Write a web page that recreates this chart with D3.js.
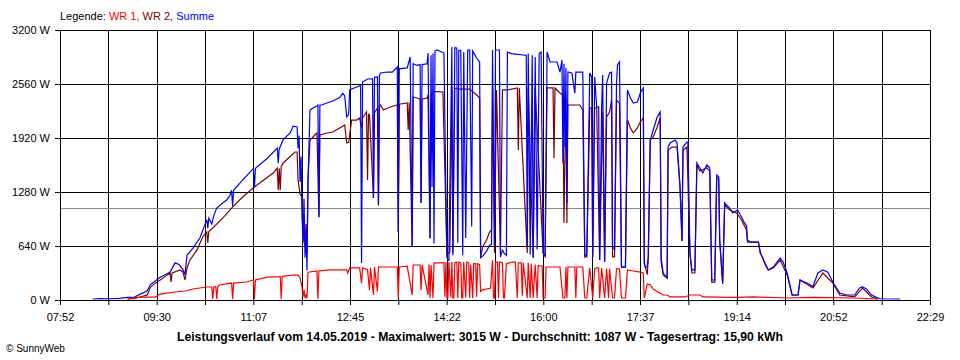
<!DOCTYPE html>
<html>
<head>
<meta charset="utf-8">
<script src="https://cdn.jsdelivr.net/npm/d3@7"></script>
<style>
body { margin: 0; background: #fff; }
svg { display: block; font-family: "Liberation Sans", Arial, sans-serif; }
</style>
</head>
<body>
<svg id="chart" width="960" height="360"></svg>
<script>
// x values: minutes after 07:52, y values: power in W
const timeLabels = ["07:52", "09:30", "11:07", "12:45", "14:22", "16:00", "17:37", "19:14", "20:52", "22:29"];
const totalMinutes = 877;
const powerTicks = [0, 640, 1280, 1920, 2560, 3200];
const average = 1087;
const titleText = "Leistungsverlauf vom 14.05.2019 - Maximalwert: 3015 W - Durchschnitt: 1087 W - Tagesertrag: 15,90 kWh";

const summe = [[33,12],[40,18],[50,15],[60,20],[68,30],[75,35],[81,70],[88,110],[91,180],[96,225],[101,270],[106,300],[111,330],[116,440],[120,420],[124,360],[126,300],[128,530],[134,615],[141,735],[146,890],[148,950],[149,850],[150,970],[153,900],[155,1000],[158,1090],[164,1150],[168,1185],[171,1230],[173,1300],[174,1110],[175,1300],[184,1420],[195,1560],[196,1330],[197,1560],[209,1680],[219,1800],[220,1620],[221,1790],[225,1900],[232,1980],[235,2060],[239,2050],[240,1800],[241,1950],[242,1400],[243,1700],[244,1000],[245,700],[246,1200],[247,500],[248,800],[249,350],[250,1400],[252,2250],[255,2276],[259,2300],[260,2311],[261,980],[262,2311],[264,2311],[269,2335],[275,2359],[282,2400],[285,2450],[287,2420],[289,2170],[291,2200],[292,2489],[299,2524],[303,2540],[304,440],[305,2584],[310,2619],[315,2620],[316,1210],[317,2640],[320,2643],[321,1120],[322,2660],[323,2690],[330,2702],[335,2700],[340,2761],[341,805],[342,2740],[350,2750],[353,2880],[355,630],[356,2800],[360,2780],[363,2790],[364,1150],[365,2790],[370,2800],[371,2927],[373,730],[374,2900],[375,1340],[376,2920],[377,670],[378,2950],[380,2963],[387,2927],[390,510],[391,470],[392,470],[395,2999],[396,530],[398,2990],[400,2987],[401,680],[402,2960],[404,2960],[406,530],[407,2939],[409,735],[411,2963],[413,2963],[415,870],[416,2950],[420,2868],[423,2821],[424,500],[426,520],[430,580],[433,650],[435,660],[436,2963],[438,628],[439,2963],[443,2963],[444,510],[446,590],[448,550],[450,530],[451,2939],[455,2920],[461,2910],[467,2904],[470,2900],[471,630],[472,2920],[474,540],[476,2900],[477,500],[479,2880],[481,600],[483,2920],[485,2939],[487,557],[489,520],[491,2939],[494,2821],[501,2821],[504,2700],[506,2844],[507,1624],[508,2800],[509,1813],[510,2750],[511,1150],[512,2702],[516,2690],[519,2450],[520,2700],[524,2700],[527,2700],[529,533],[531,510],[534,2690],[536,2643],[537,510],[539,2643],[541,2290],[543,2290],[544,474],[546,2300],[547,2667],[549,450],[551,2572],[554,2690],[556,2700],[557,628],[559,600],[561,2572],[562,2785],[564,2821],[566,390],[568,390],[570,390],[572,2489],[575,2394],[578,2335],[582,2347],[585,2453],[588,2513],[589,439],[590,390],[592,391],[593,510],[595,1896],[598,2015],[602,2169],[605,2228],[606,500],[608,320],[612,261],[613,1813],[615,1861],[620,1896],[622,1860],[625,1340],[627,700],[628,1813],[632,1873],[633,1860],[635,557],[637,356],[640,356],[642,1624],[645,1564],[648,1505],[652,1600],[655,1564],[657,237],[660,237],[662,1481],[664,1460],[665,711],[668,200],[670,1150],[675,1090],[678,1031],[683,1067],[687,984],[690,913],[692,880],[693,711],[696,687],[704,687],[706,557],[708,510],[711,415],[714,356],[719,391],[726,498],[729,450],[733,320],[738,59],[744,60],[746,237],[753,201],[759,160],[764,320],[769,356],[774,330],[779,213],[786,83],[793,59],[801,59],[806,142],[809,154],[813,130],[818,59],[824,25],[827,15],[847,12]];

const wr2 = [[68,12],[75,20],[81,36],[88,60],[91,150],[96,200],[101,237],[106,280],[111,320],[112,213],[113,320],[121,356],[124,330],[126,237],[128,380],[131,475],[138,590],[144,750],[148,806],[149,676],[150,810],[154,853],[164,970],[174,1100],[184,1220],[195,1330],[205,1420],[215,1505],[219,1564],[220,1300],[221,1560],[222,1304],[223,1580],[225,1624],[232,1700],[237,1754],[239,1754],[240,1422],[242,1250],[244,1221],[245,676],[246,1000],[247,628],[248,900],[249,557],[250,1422],[252,1896],[255,1932],[259,1979],[261,984],[262,1956],[269,1979],[275,1991],[282,2039],[287,2074],[289,1861],[291,1870],[294,2133],[299,2133],[302,2157],[304,2040],[305,2157],[309,2228],[310,1422],[311,2200],[312,2193],[316,1209],[317,2220],[320,2276],[321,1126],[322,2290],[323,2311],[326,2252],[333,2287],[340,2311],[341,805],[342,2320],[350,2335],[351,2015],[352,2340],[355,628],[356,2406],[360,2394],[363,2380],[364,1150],[365,2380],[370,2394],[371,2430],[373,735],[374,2430],[376,2470],[380,2470],[386,2465],[390,557],[391,557],[393,557],[395,2524],[396,557],[398,2510],[403,2500],[410,2500],[413,2500],[420,2430],[423,2394],[424,510],[426,628],[430,711],[433,806],[435,830],[436,2513],[438,557],[440,2490],[444,557],[446,2490],[451,2490],[461,2513],[462,1778],[463,2513],[471,557],[472,2513],[477,500],[479,2513],[487,557],[489,520],[491,2513],[497,2513],[498,1683],[499,2513],[504,2453],[507,2430],[508,913],[510,2400],[511,913],[512,2311],[516,2311],[520,2311],[524,2311],[527,2252],[529,510],[531,533],[533,1624],[534,2276],[536,2276],[537,510],[539,2276],[541,2276],[544,474],[547,2228],[549,450],[551,2169],[554,2228],[556,2370],[557,510],[559,510],[561,2370],[564,2330],[566,391],[570,391],[572,2133],[575,2039],[578,1979],[582,2039],[585,2110],[588,2160],[589,439],[592,300],[593,500],[595,1896],[598,1932],[602,2050],[605,2157],[606,450],[608,296],[612,261],[613,1778],[617,1813],[622,1813],[625,1350],[627,700],[628,1778],[632,1813],[635,557],[637,320],[640,320],[642,1600],[645,1530],[652,1564],[655,1530],[657,213],[660,213],[662,1446],[664,1440],[665,711],[668,190],[670,1126],[675,1067],[682,1031],[687,948],[692,830],[693,687],[704,687],[706,557],[714,356],[719,379],[726,474],[733,296],[738,59],[744,59],[746,237],[759,142],[769,320],[779,201],[786,59],[801,36],[809,142],[818,36],[824,12]];

const wr1 = [[68,12],[81,35],[96,35],[101,70],[116,95],[126,107],[134,130],[148,154],[153,154],[154,12],[155,154],[157,160],[158,12],[159,160],[161,178],[173,201],[174,12],[175,201],[188,213],[195,237],[196,12],[197,237],[209,270],[219,273],[222,280],[223,12],[224,280],[235,296],[240,296],[242,261],[244,150],[245,40],[246,120],[247,24],[248,60],[249,20],[250,330],[259,344],[260,12],[261,344],[262,345],[272,356],[289,356],[290,320],[292,380],[302,380],[304,200],[305,380],[310,360],[312,120],[313,380],[316,60],[317,390],[320,100],[321,390],[323,391],[340,391],[341,24],[342,391],[350,400],[355,60],[356,415],[363,415],[364,120],[365,415],[371,60],[372,420],[373,24],[374,415],[376,24],[377,440],[387,440],[388,40],[389,450],[390,24],[391,24],[392,450],[394,30],[395,450],[396,24],[397,24],[398,440],[400,450],[401,24],[402,450],[404,440],[405,24],[406,24],[407,450],[409,30],[410,450],[412,440],[413,24],[414,420],[416,24],[417,430],[419,430],[420,40],[421,430],[423,420],[424,100],[426,120],[430,130],[434,140],[436,475],[437,24],[438,24],[439,450],[441,450],[442,24],[443,450],[446,440],[447,24],[448,24],[450,430],[453,440],[456,450],[459,450],[461,24],[462,440],[465,440],[466,50],[467,440],[471,24],[472,440],[474,24],[475,430],[477,24],[479,420],[481,24],[482,410],[486,400],[487,24],[489,24],[490,391],[492,391],[495,391],[499,391],[504,391],[507,24],[509,24],[510,391],[511,24],[512,391],[516,391],[519,391],[520,24],[521,391],[524,391],[527,391],[529,24],[531,24],[534,380],[537,24],[539,370],[541,380],[543,380],[544,24],[546,380],[549,24],[551,370],[553,24],[554,370],[557,24],[559,24],[561,370],[564,370],[566,24],[570,24],[572,356],[578,344],[585,330],[588,320],[589,24],[592,190],[595,180],[598,130],[602,100],[605,80],[608,59],[612,59],[615,36],[630,36],[635,59],[645,59],[648,36],[680,30],[700,36],[733,24],[760,30],[800,24],[824,12]];

const legendItems = [
    { text: "WR 1, ", color: "#ff0000" },
    { text: "WR 2, ", color: "#800000" },
    { text: "Summe", color: "#0000ff" }
];

const svg = d3.select("#chart");
const margin = { top: 30, right: 30, bottom: 60, left: 60 };
const width = 960 - margin.left - margin.right;
const height = 360 - margin.top - margin.bottom;

svg.append("rect").attr("width", 960).attr("height", 360).attr("fill", "#fff");

const g = svg.append("g").attr("transform", `translate(${margin.left},${margin.top})`);

const x = d3.scaleLinear().domain([0, totalMinutes]).range([0, width]);
const y = d3.scaleLinear().domain([0, 3200]).range([height, 0]);

const tickMinutes = d3.range(19).map(i => i * totalMinutes / 18);

// grid
g.selectAll(".vgrid")
    .data(tickMinutes)
    .enter()
    .append("line")
    .attr("x1", d => Math.round(x(d)) + 0.5)
    .attr("x2", d => Math.round(x(d)) + 0.5)
    .attr("y1", 0)
    .attr("y2", height)
    .attr("stroke", "#000");

g.selectAll(".hgrid")
    .data(powerTicks)
    .enter()
    .append("line")
    .attr("x1", 0)
    .attr("x2", width)
    .attr("y1", d => Math.round(y(d)) + 0.5)
    .attr("y2", d => Math.round(y(d)) + 0.5)
    .attr("stroke", "#000");

// average line
g.append("line")
    .attr("x1", 0)
    .attr("x2", width)
    .attr("y1", Math.round(y(average)) + 0.5)
    .attr("y2", Math.round(y(average)) + 0.5)
    .attr("stroke", "#888");

// axes
const xAxis = g.append("g")
    .attr("transform", `translate(0,${height})`)
    .call(d3.axisBottom(x)
        .tickValues(tickMinutes)
        .tickSize(5)
        .tickSizeOuter(0)
        .tickPadding(8)
        .tickFormat((d, i) => i % 2 ? "" : timeLabels[i / 2]));

const yAxis = g.append("g")
    .call(d3.axisLeft(y)
        .tickValues(powerTicks)
        .tickSize(5)
        .tickSizeOuter(0)
        .tickPadding(5)
        .tickFormat(d => d + " W"));

[xAxis, yAxis].forEach(a => {
    a.attr("font-family", null).attr("font-size", 11);
    a.selectAll("line").attr("stroke", "#000");
    a.select(".domain").attr("stroke", "#000");
    a.selectAll("text").attr("fill", "#000");
});

// lines (WR 2 under the sum, WR 1 on top)
const line = d3.line()
    .x(d => x(d[0]))
    .y(d => y(d[1]));

[[wr2, "#800000"], [summe, "#0000ff"], [wr1, "#ff0000"]].forEach(([data, color]) => {
    g.append("path")
        .datum(data)
        .attr("fill", "none")
        .attr("stroke", color)
        .attr("stroke-width", 1.2)
        .attr("d", line);
});

// legend
const legend = svg.append("text")
    .attr("x", 60)
    .attr("y", 20)
    .attr("font-size", 11);
legend.append("tspan").attr("fill", "#000").text("Legende: ");
legendItems.forEach(item => {
    legend.append("tspan").attr("fill", item.color).text(item.text);
});

// title
svg.append("text")
    .attr("x", 480)
    .attr("y", 341)
    .attr("text-anchor", "middle")
    .attr("font-size", 12)
    .attr("font-weight", "bold")
    .attr("textLength", 606)
    .attr("lengthAdjust", "spacingAndGlyphs")
    .text(titleText);

svg.append("text")
    .attr("x", 6)
    .attr("y", 352)
    .attr("font-size", 10)
    .text("\u00a9 SunnyWeb");
</script>
</body>
</html>
